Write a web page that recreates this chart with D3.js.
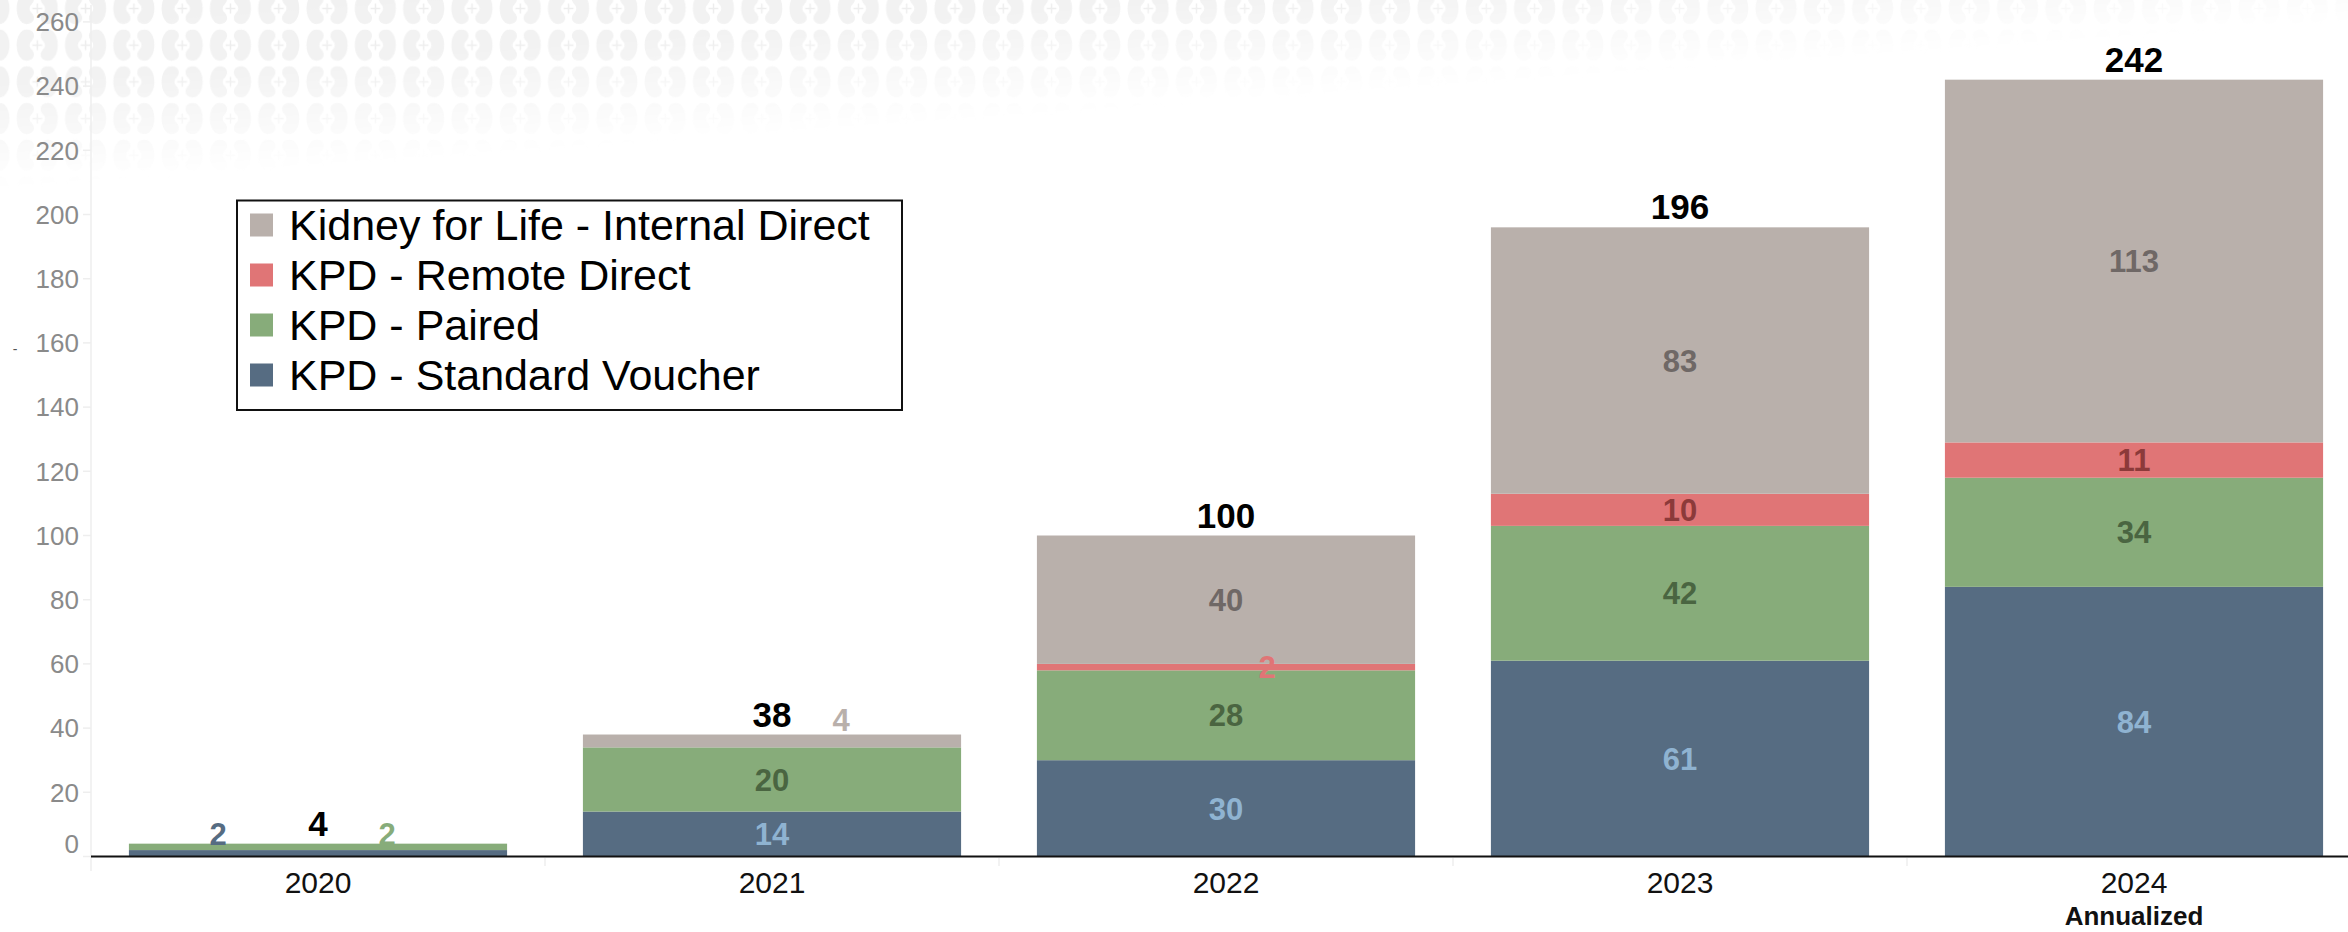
<!DOCTYPE html>
<html>
<head>
<meta charset="utf-8">
<script src="https://cdn.jsdelivr.net/npm/d3@7"></script>
<style>
html,body{margin:0;padding:0;background:#fff;}
svg{display:block;font-family:"Liberation Sans",Arial,sans-serif;}
</style>
</head>
<body>
<svg id="chart" width="2348" height="932"></svg>
<script>
// ---- data ----
const years = ["2020", "2021", "2022", "2023", "2024"];
const yearSubLabels = ["", "", "", "", "Annualized"];
const seriesNames = ["KPD - Standard Voucher", "KPD - Paired", "KPD - Remote Direct", "Kidney for Life - Internal Direct"];
const standardVoucher = [2, 14, 30, 61, 84];
const paired = [2, 20, 28, 42, 34];
const remoteDirect = [0, 0, 2, 10, 11];
const internalDirect = [0, 4, 40, 83, 113];
const yTicks = [0, 20, 40, 60, 80, 100, 120, 140, 160, 180, 200, 220, 240, 260];

// ---- styles ----
const colors = ["#566c82", "#87ac7a", "#e07576", "#b9b0ab"];
const labelColors = ["#8fb3d1", "#4a6541", "#8c3a3a", "#6f6866"];

const svg = d3.select("#chart");
const W = 2348, H = 932;

// background kidney pattern
const defs = svg.append("defs");
const pat = defs.append("pattern").attr("id", "kid").attr("patternUnits", "userSpaceOnUse")
  .attr("width", 48.3).attr("height", 36.7).attr("x", 13.15).attr("y", -9.85);
const bean = "M0,-15.5 C-11,-15.5 -11,15.5 0,15.5 C6,15.5 8,9 4,4 C2,2 2,-2 4,-4 C8,-9 6,-15.5 0,-15.5 Z";
const beanFill = "#f1f1f1";
pat.append("path").attr("d", bean).attr("transform", "translate(13.5,18.35) scale(1.2,1)").attr("fill", beanFill);
pat.append("path").attr("d", bean).attr("transform", "translate(34.8,18.35) scale(-1.2,1)").attr("fill", beanFill);
pat.append("path").attr("d", "M24.15,13.5 v9.7 M19.3,18.35 h9.7").attr("stroke", "#ececec").attr("stroke-width", 1.4);
const lgr = defs.append("linearGradient").attr("id", "fade").attr("gradientUnits", "userSpaceOnUse")
  .attr("x1", 0).attr("y1", 0).attr("x2", 13.45).attr("y2", 189.5);
lgr.append("stop").attr("offset", 0).attr("stop-color", "#fff").attr("stop-opacity", 1);
lgr.append("stop").attr("offset", 0.45).attr("stop-color", "#fff").attr("stop-opacity", 0.9);
lgr.append("stop").attr("offset", 1).attr("stop-color", "#fff").attr("stop-opacity", 0);
const mask = defs.append("mask").attr("id", "fadeMask");
mask.append("rect").attr("width", W).attr("height", H).attr("fill", "url(#fade)");
svg.append("rect").attr("width", W).attr("height", 260).attr("fill", "url(#kid)").attr("mask", "url(#fadeMask)");

// scales
const x = d3.scaleBand().domain(years).range([91, 91 + 5 * 454]).paddingInner(0.167).paddingOuter(0.0835);
const y = d3.scaleLinear().domain([0, 265]).range([856.5, 5.85]);

// y axis line + ticks
svg.append("line").attr("x1", 91).attr("x2", 91).attr("y1", 5).attr("y2", 871).attr("stroke", "#eeeeee").attr("stroke-width", 1.5);
const yAxis = svg.append("g");
yTicks.forEach(t => {
  yAxis.append("line").attr("x1", 83).attr("x2", 91).attr("y1", y(t)).attr("y2", y(t)).attr("stroke", "#eeeeee").attr("stroke-width", 1.5);
  yAxis.append("text").attr("x", 79).attr("y", y(t) + (t === 0 ? -13 : 0)).attr("dy", "0.36em")
    .attr("text-anchor", "end").attr("font-size", 26).attr("fill", "#8a8a8a").text(t);
});
svg.append("text").attr("x", 15).attr("y", 349).attr("dy", "0.36em").attr("text-anchor", "middle")
  .attr("font-size", 14).attr("fill", "#555").text("-");

// stacked bars
const rows = years.map((yr, i) => ({
  year: yr, s0: standardVoucher[i], s1: paired[i], s2: remoteDirect[i], s3: internalDirect[i]
}));
const stack = d3.stack().keys(["s0", "s1", "s2", "s3"]);
const layers = stack(rows);

layers.forEach((layer, si) => {
  svg.append("g").selectAll("rect").data(layer).join("rect")
    .attr("x", d => x(d.data.year))
    .attr("width", x.bandwidth())
    .attr("y", d => y(d[1]))
    .attr("height", d => y(d[0]) - y(d[1]))
    .attr("fill", colors[si]);
});

// x axis baseline and faint ticks
svg.append("line").attr("x1", 91).attr("x2", W).attr("y1", 856.5).attr("y2", 856.5).attr("stroke", "#111").attr("stroke-width", 2);
years.forEach((yr, i) => {
  if (i > 0) svg.append("line").attr("x1", x(yr) - x.step() * 0.0835).attr("x2", x(yr) - x.step() * 0.0835)
    .attr("y1", 858).attr("y2", 866).attr("stroke", "#eeeeee").attr("stroke-width", 1.5);
  const cx = x(yr) + x.bandwidth() / 2;
  svg.append("text").attr("x", cx).attr("y", 893).attr("text-anchor", "middle").attr("font-size", 30).attr("fill", "#111").text(yr);
  if (yearSubLabels[i]) svg.append("text").attr("x", cx).attr("y", 925).attr("text-anchor", "middle")
    .attr("font-size", 26).attr("font-weight", "bold").attr("fill", "#111").text(yearSubLabels[i]);
});

// segment labels
const nudges = {
  "2020|0": {dx: -100, top: -10},
  "2020|1": {dx: 69, top: -10},
  "2021|3": {dx: 69, top: -14.5},
  "2022|2": {dx: 41}
};
layers.forEach((layer, si) => {
  layer.forEach(d => {
    const v = d[1] - d[0];
    if (v <= 0) return;
    const yr = d.data.year;
    const cx = x(yr) + x.bandwidth() / 2;
    const n = nudges[yr + "|" + si];
    let lx = cx, ly = (y(d[0]) + y(d[1])) / 2, col = labelColors[si];
    if (n) {
      lx = cx + n.dx;
      col = colors[si];
      const tot = layers[3].find(e => e.data.year === yr)[1];
      if (n.top !== undefined) ly = y(tot) + n.top;
    }
    svg.append("text").attr("x", lx).attr("y", ly).attr("dy", "0.36em").attr("text-anchor", "middle")
      .attr("font-size", 31).attr("font-weight", "bold").attr("fill", col).text(v);
  });
});

// totals
layers[3].forEach(d => {
  svg.append("text").attr("x", x(d.data.year) + x.bandwidth() / 2).attr("y", y(d[1]) - 8)
    .attr("text-anchor", "middle").attr("font-size", 35).attr("font-weight", "bold").attr("fill", "#000").text(d[1]);
});

// legend
const lg = svg.append("g");
lg.append("rect").attr("x", 237).attr("y", 200.5).attr("width", 665).attr("height", 209.5)
  .attr("fill", "#fff").attr("stroke", "#111").attr("stroke-width", 2);
const legendOrder = [3, 2, 1, 0];
legendOrder.forEach((si, k) => {
  const cy = 225 + k * 50;
  lg.append("rect").attr("x", 250).attr("y", cy - 11.5).attr("width", 23).attr("height", 23).attr("fill", colors[si]);
  lg.append("text").attr("x", 289).attr("y", cy).attr("dy", "0.36em").attr("font-size", 43).attr("fill", "#000").text(seriesNames[si]);
});
</script>
</body>
</html>
